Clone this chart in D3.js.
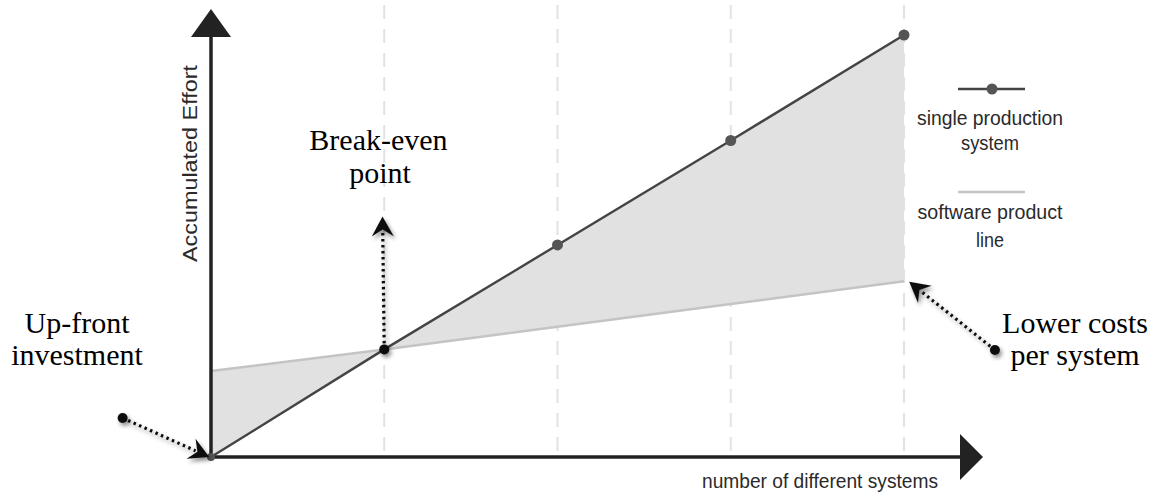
<!DOCTYPE html>
<html><head><meta charset="utf-8">
<script src="https://cdn.jsdelivr.net/npm/d3@7"></script>
<style>html,body{margin:0;padding:0;background:#fff;}svg{display:block;}</style>
</head><body><div id="chart"></div>
<script>
const categories = [0, 1, 2, 3, 4];
const singleProduction = [0, 1.02, 2.01, 3.0, 4.0];
const productLine = [0.815, 1.02, 1.235, 1.45, 1.665];
const legendLabels = [["single production", "system"], ["software product", "line"]];
const axisTitles = {x: "number of different systems", y: "Accumulated Effort"};

const W = 1157, H = 495;
const svg = d3.select("#chart").append("svg").attr("width", W).attr("height", H);
const x = d3.scaleLinear().domain([0, 4]).range([211, 904]);
const y = d3.scaleLinear().domain([0, 4]).range([457, 35]);

const defs = svg.append("defs");
const f = defs.append("filter").attr("id", "sh").attr("x", "-50%").attr("y", "-50%").attr("width", "200%").attr("height", "200%");
f.append("feGaussianBlur").attr("in", "SourceAlpha").attr("stdDeviation", 2.2).attr("result", "b");
f.append("feOffset").attr("dx", 2).attr("dy", 3).attr("result", "o");
f.append("feComponentTransfer").append("feFuncA").attr("type", "linear").attr("slope", 0.45);
const fm = f.append("feMerge"); fm.append("feMergeNode"); fm.append("feMergeNode").attr("in", "SourceGraphic");

// grid lines
svg.append("g").selectAll("line").data(categories.slice(1)).join("line")
  .attr("x1", d => x(d)).attr("x2", d => x(d)).attr("y1", 5).attr("y2", y(0))
  .attr("stroke", "#e2e2e2").attr("stroke-width", 2).attr("stroke-dasharray", "14,10");

// area between lines
const data = categories.map((c, i) => ({c, s: singleProduction[i], p: productLine[i]}));
svg.append("path").datum(data)
  .attr("d", d3.area().x(d => x(d.c)).y0(d => y(d.s)).y1(d => y(d.p)))
  .attr("fill", "#e1e1e1");

// product line
svg.append("path").datum(data)
  .attr("d", d3.line().x(d => x(d.c)).y(d => y(d.p)))
  .attr("fill", "none").attr("stroke", "#c4c4c4").attr("stroke-width", 2.5);
// single production line
svg.append("path").datum(data)
  .attr("d", d3.line().x(d => x(d.c)).y(d => y(d.s)))
  .attr("fill", "none").attr("stroke", "#444").attr("stroke-width", 2.4);
svg.append("g").selectAll("circle").data(data.slice(2)).join("circle")
  .attr("cx", d => x(d.c)).attr("cy", d => y(d.s)).attr("r", 5.5).attr("fill", "#555");

// axes
svg.append("line").attr("x1", x(0)).attr("x2", x(0)).attr("y1", 30).attr("y2", y(0) + 2)
  .attr("stroke", "#222").attr("stroke-width", 3.5);
svg.append("path").attr("d", `M${x(0)},9 L${x(0) + 20},37 L${x(0) - 20},37 Z`).attr("fill", "#222");
svg.append("line").attr("x1", x(0)).attr("x2", 965).attr("y1", y(0)).attr("y2", y(0))
  .attr("stroke", "#222").attr("stroke-width", 3.5);
svg.append("path").attr("d", `M983,${y(0)} L960,${y(0) - 23} L960,${y(0) + 23} Z`).attr("fill", "#222");
svg.append("circle").attr("cx", x(0)).attr("cy", y(0)).attr("r", 4).attr("fill", "#555");

const sans = "Liberation Sans, Arial, sans-serif";
function fitText(sel, len) {
  return sel.attr("textLength", len).attr("lengthAdjust", "spacingAndGlyphs");
}
fitText(svg.append("text").attr("transform", `translate(197,163.5) rotate(-90)`)
  .attr("text-anchor", "middle").attr("font-family", sans)
  .attr("font-size", 20).attr("fill", "#2a2a2a").text(axisTitles.y), 197);
fitText(svg.append("text").attr("x", 820).attr("y", 488).attr("text-anchor", "middle")
  .attr("font-family", sans).attr("font-size", 20).attr("fill", "#2a2a2a")
  .text(axisTitles.x), 236);

// legend
const lg = svg.append("g").attr("font-family", sans).attr("font-size", 20.5).attr("fill", "#2a2a2a").attr("text-anchor", "middle");
lg.append("line").attr("x1", 958).attr("x2", 1025).attr("y1", 89).attr("y2", 89).attr("stroke", "#444").attr("stroke-width", 2.4);
lg.append("circle").attr("cx", 992).attr("cy", 89).attr("r", 5.5).attr("fill", "#555");
lg.append("line").attr("x1", 958).attr("x2", 1025).attr("y1", 192).attr("y2", 192).attr("stroke", "#c4c4c4").attr("stroke-width", 2.5);
const legendPos = [[125, 150], [219, 247]];
const legendLen = [[146, 58], [145, 28]];
legendLabels.forEach((lines, i) => {
  lines.forEach((t, j) => {
    fitText(lg.append("text").attr("x", 990).attr("y", legendPos[i][j]).text(t), legendLen[i][j]);
  });
});

// annotations
const serif = "Liberation Serif, Times New Roman, serif";
const ann = svg.append("g").attr("font-family", serif).attr("font-size", 30).attr("fill", "#000").attr("text-anchor", "middle");
ann.append("text").attr("x", 378.5).attr("y", 150).text("Break-even");
ann.append("text").attr("x", 380).attr("y", 183).text("point");
ann.append("text").attr("x", 77).attr("y", 333).text("Up-front");
ann.append("text").attr("x", 77).attr("y", 365).text("investment");
ann.append("text").attr("x", 1075).attr("y", 333).text("Lower costs");
ann.append("text").attr("x", 1075).attr("y", 365).text("per system");

function arrow(from, to) {
  const g = svg.append("g").attr("filter", "url(#sh)");
  const x1 = x(from[0]), y1 = y(from[1]), x2 = x(to[0]), y2 = y(to[1]);
  const ang = Math.atan2(y2 - y1, x2 - x1);
  const L = 20, Wd = 11;
  const bx = x2 - Math.cos(ang) * L * 0.75, by = y2 - Math.sin(ang) * L * 0.75;
  g.append("line").attr("x1", x1).attr("y1", y1).attr("x2", bx).attr("y2", by)
    .attr("stroke", "#111").attr("stroke-width", 3.2).attr("stroke-dasharray", "2.5,3.5").attr("stroke-linecap", "butt");
  const p = (a, r) => [x2 - Math.cos(ang) * r + Math.cos(ang + Math.PI / 2) * a, y2 - Math.sin(ang) * r + Math.sin(ang + Math.PI / 2) * a];
  const pts = [[x2, y2], p(Wd, L), p(0, L * 0.65), p(-Wd, L)];
  g.append("path").attr("d", "M" + pts.map(q => q.join(",")).join("L") + "Z").attr("fill", "#111");
  g.append("circle").attr("cx", x1).attr("cy", y1).attr("r", 5).attr("fill", "#111");
}
arrow([1, productLine[1]], [0.99, 2.28]);
arrow([-0.51, 0.37], [-0.01, 0.0]);
arrow([4.525, 1.015], [4.03, 1.66]);
</script></body></html>
